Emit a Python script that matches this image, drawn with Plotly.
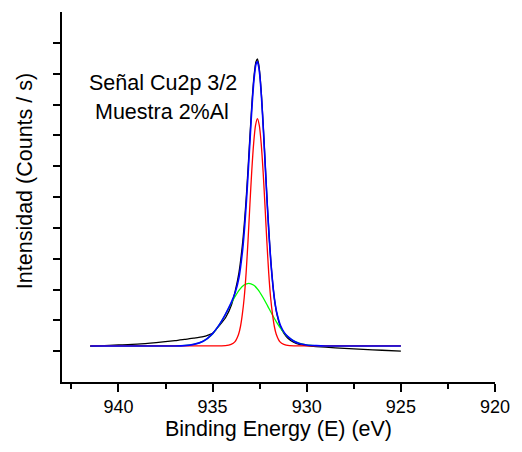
import plotly.graph_objects as go

# Binding energy (eV) and intensity (arbitrary units, x1000 counts/s)
data_x = [941.5, 941.0, 940.0, 939.0, 938.0, 937.0, 936.5, 936.0, 935.5, 935.2, 935.0,
          934.8, 934.6, 934.3, 934.0, 933.8, 933.6, 933.4, 933.3, 933.2, 933.1, 933.0,
          932.9, 932.8, 932.7, 932.62, 932.55, 932.5, 932.4, 932.3, 932.2, 932.1, 932.0,
          931.9, 931.8, 931.7, 931.6, 931.4, 931.2, 931.0, 930.7, 930.4, 930.0, 929.5,
          929.0, 928.0, 927.0, 926.0, 925.0]
data_y = [1.16, 1.17, 1.20, 1.23, 1.28, 1.34, 1.38, 1.42, 1.47, 1.53, 1.58,
          1.72, 1.86, 2.10, 2.50, 2.95, 3.55, 4.55, 5.25, 6.10, 7.10, 8.15,
          9.15, 9.92, 10.38, 10.48, 10.30, 10.05, 9.25, 8.18, 7.00, 5.82, 4.76,
          3.86, 3.16, 2.62, 2.25, 1.80, 1.57, 1.42, 1.29, 1.22, 1.18, 1.15,
          1.13, 1.09, 1.06, 1.03, 1.00]

red_x = [941.5, 936.0, 935.0, 934.32, 934.02, 933.82, 933.62, 933.52, 933.42, 933.32,
         933.22, 933.12, 933.02, 932.92, 932.82, 932.72, 932.62, 932.52, 932.42, 932.32,
         932.22, 932.12, 932.02, 931.92, 931.82, 931.72, 931.62, 931.42, 931.22, 930.92,
         930.0, 925.0]
red_y = [1.17, 1.17, 1.17, 1.18, 1.22, 1.30, 1.55, 1.80, 2.20, 2.75,
         3.54, 4.57, 5.74, 6.85, 7.74, 8.32, 8.54, 8.32, 7.74, 6.85,
         5.74, 4.57, 3.54, 2.75, 2.20, 1.80, 1.55, 1.30, 1.22, 1.18,
         1.17, 1.17]

green_x = [941.5, 937.08, 936.58, 936.08, 935.58, 935.08, 934.83, 934.58, 934.33, 934.08,
           933.83, 933.58, 933.33, 933.08, 932.83, 932.58, 932.33, 932.08, 931.83, 931.58,
           931.33, 931.08, 930.58, 930.08, 929.58, 929.08, 925.0]
green_y = [1.17, 1.17, 1.18, 1.21, 1.30, 1.51, 1.69, 1.92, 2.18, 2.47,
           2.75, 2.99, 3.145, 3.20, 3.145, 2.99, 2.75, 2.47, 2.18, 1.92,
           1.69, 1.51, 1.30, 1.21, 1.18, 1.17, 1.17]

fit_x = [941.5, 937.0, 936.5, 936.0, 935.5, 935.0, 934.6, 934.3, 934.0, 933.8, 933.6,
         933.4, 933.3, 933.2, 933.1, 933.0, 932.9, 932.8, 932.7, 932.62, 932.55, 932.5,
         932.4, 932.3, 932.2, 932.1, 932.0, 931.9, 931.8, 931.7, 931.6, 931.4, 931.2,
         931.0, 930.7, 930.4, 930.0, 929.5, 929.0, 925.0]
fit_y = [1.17, 1.17, 1.18, 1.22, 1.32, 1.57, 1.90, 2.22, 2.59, 2.90, 3.39,
         4.32, 5.02, 5.90, 6.91, 7.99, 9.01, 9.82, 10.30, 10.39, 10.22, 9.98,
         9.20, 8.15, 6.97, 5.79, 4.73, 3.84, 3.15, 2.63, 2.27, 1.84, 1.61,
         1.47, 1.33, 1.25, 1.20, 1.18, 1.17, 1.17]

x_ticks = [940, 935, 930, 925, 920]
y_ticks = [1, 2, 3, 4, 5, 6, 7, 8, 9, 10, 11]

FONT = "Liberation Sans, Arial, sans-serif"

fig = go.Figure()
fig.add_trace(go.Scatter(x=data_x, y=data_y, mode="lines", line=dict(color="#000000", width=1.3, shape="spline", smoothing=0.6), name="Datos"))
fig.add_trace(go.Scatter(x=green_x, y=green_y, mode="lines", line=dict(color="#00ff00", width=1.3, shape="spline", smoothing=0.6), name="Pico 2"))
fig.add_trace(go.Scatter(x=red_x, y=red_y, mode="lines", line=dict(color="#ff0000", width=1.3, shape="spline", smoothing=0.6), name="Pico 1"))
fig.add_trace(go.Scatter(x=fit_x, y=fit_y, mode="lines", line=dict(color="#0000ff", width=1.6, shape="spline", smoothing=0.6), name="Ajuste"))

fig.update_layout(
    width=522, height=452,
    margin=dict(l=62, r=17, t=12, b=70),
    paper_bgcolor="white", plot_bgcolor="white",
    showlegend=False,
    font=dict(family=FONT, color="#000000"),
    xaxis=dict(
        range=[943, 920], tickvals=x_ticks, ticktext=[str(v) for v in x_ticks],
        showline=True, linecolor="#000000", linewidth=1.5, mirror=False,
        ticks="outside", ticklen=8, tickwidth=1.5, tickcolor="#000000",
        minor=dict(dtick=2.5, tick0=920, ticks="outside", ticklen=5, tickwidth=1.5, tickcolor="#000000", showgrid=False),
        showgrid=False, zeroline=False,
        tickfont=dict(family=FONT, size=18, color="#000000"),
        title=dict(text="Binding Energy (E) (eV)", font=dict(family=FONT, size=21.5, color="#000000"), standoff=4),
    ),
    yaxis=dict(
        range=[0, 12], tickvals=y_ticks, showticklabels=False,
        showline=True, linecolor="#000000", linewidth=1.5,
        ticks="outside", ticklen=7, tickwidth=1.5, tickcolor="#000000",
        showgrid=False, zeroline=False,
    ),
    annotations=[
        dict(text="Intensidad (Counts / s)", xref="paper", yref="paper", x=-0.0858, y=0.5424,
             textangle=-90, showarrow=False, xanchor="center", yanchor="middle",
             font=dict(family=FONT, size=21.5, color="#000000")),
        dict(text="Señal Cu2p 3/2", xref="paper", yref="paper", x=0.2325, y=0.808,
             showarrow=False, xanchor="center", yanchor="middle",
             font=dict(family=FONT, size=21.5, color="#000000")),
        dict(text="Muestra 2%Al", xref="paper", yref="paper", x=0.2302, y=0.7297,
             showarrow=False, xanchor="center", yanchor="middle",
             font=dict(family=FONT, size=21.5, color="#000000")),
    ],
)

fig.write_html("out.html", config={"displayModeBar": False},
               post_script="document.body.style.margin='0';document.body.style.padding='0';")
